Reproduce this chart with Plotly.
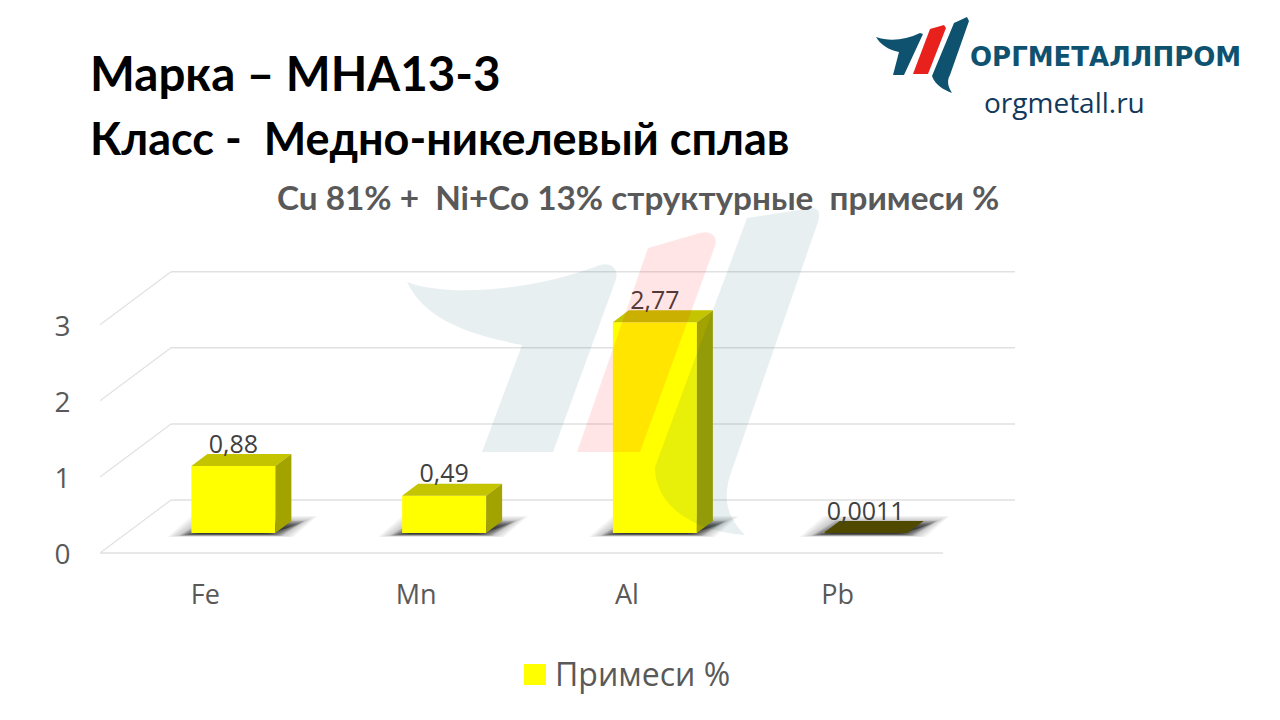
import plotly.graph_objects as go

# ---------- data ----------
categories = ["Fe", "Mn", "Al", "Pb"]
values = [0.88, 0.49, 2.77, 0.0011]
value_labels = ["0,88", "0,49", "2,77", "0,0011"]
y_ticks = [0, 1, 2, 3]
series_name = "Примеси %"

# ---------- geometry of the fake 3D box (pixels on the 1280x720 page) ----------
PLOT_L, PLOT_R, PLOT_T, PLOT_B = 100, 1015, 220, 558
CAT_PX = 210.75          # width of one category
UNIT_PX = 76.1           # height of one y unit
BAR_BASE_PX = 533
FLOOR_PX = 553
BAR_SHIFT = 28 / CAT_PX  # bars sit to the right of their tick
BAR_W = 84 / CAT_PX
DX, DY = 16 / CAT_PX, 12 / UNIT_PX       # bar depth
WALL_DX, WALL_DY = 71 / CAT_PX, 53 / UNIT_PX   # back wall offset
FLOOR = -(FLOOR_PX - BAR_BASE_PX) / UNIT_PX    # y of the front floor edge
Y_BOTTOM = -(PLOT_B - BAR_BASE_PX) / UNIT_PX
LABEL_NUDGE = -5 / UNIT_PX
TICK_NUDGE = -1 / UNIT_PX
X0 = -0.5
X1 = X0 + (PLOT_R - PLOT_L) / CAT_PX
FRONT_END = X0 + 4
TOP_COL = ["#c4c400", "#c4c400", "#c4c400", "#4f4a00"]
SIDE_COL = "#a3a300"
GRID = "#e1e1e1"
W, H = PLOT_R - PLOT_L, PLOT_B - PLOT_T


def px(x, y):
    return (x - PLOT_L) / W, (PLOT_B - y) / H


def path(points):
    out = []
    for cmd, pts in points:
        if cmd == "L":
            out.extend("L%.5f,%.5f" % px(*p) for p in pts)
        else:
            out.append(cmd + " ".join("%.5f,%.5f" % px(*p) for p in pts))
    return " ".join(out) + " Z"


def paper_shape(points, color):
    return dict(type="path", xref="paper", yref="paper", path=path(points),
                fillcolor=color, line=dict(width=0), layer="above")


shapes = []
# grid: floor edge, back-wall lines and the diagonals joining them
shapes.append(dict(type="line", xref="x", yref="y", x0=X0, x1=FRONT_END, y0=FLOOR, y1=FLOOR,
                   line=dict(color=GRID, width=1.5), layer="below"))
for t in y_ticks:
    yb = t + FLOOR + WALL_DY
    shapes.append(dict(type="line", xref="x", yref="y", x0=X0 + WALL_DX, x1=X1, y0=yb, y1=yb,
                       line=dict(color=GRID, width=1.5), layer="below"))
    shapes.append(dict(type="line", xref="x", yref="y", x0=X0, x1=X0 + WALL_DX, y0=t + FLOOR, y1=yb,
                       line=dict(color=GRID, width=1.2), layer="below"))

# soft shadow under every bar, stacked translucent layers
for i in range(len(categories)):
    c = i + BAR_SHIFT
    for k in range(16):
        inset = k * 2.0
        xa = c - BAR_W / 2 - (24 - inset) / CAT_PX
        xb = c + BAR_W / 2 + (18 - inset) / CAT_PX
        ya = -(4 - k * 0.22) / UNIT_PX
        yb = (17 - k * 0.8) / UNIT_PX
        sk = 24 / CAT_PX
        alpha = 0.04 if k < 6 else 0.16
        shapes.append(dict(type="path", xref="x", yref="y", layer="below",
                           path=f"M{xa},{ya} L{xb},{ya} L{xb + sk},{yb} L{xa + sk},{yb} Z",
                           fillcolor=f"rgba(30,30,30,{alpha})", line=dict(width=0)))

# watermark logo, laid over the bars
WM_BLUE = "rgba(0,80,100,0.09)"
WM_RED = "rgba(255,0,0,0.10)"
shapes.append(paper_shape([
    ("M", [(407, 282)]), ("C", [(440, 295), (520, 295), (600, 265)]),
    ("C", [(612, 262), (620, 270), (615, 282)]), ("L", [(553, 452), (482, 452), (522, 345)]),
    ("C", [(470, 335), (425, 320), (407, 282)]),
], WM_BLUE))
shapes.append(paper_shape([
    ("M", [(577, 452)]), ("L", [(648, 248), (700, 233)]),
    ("C", [(712, 230), (718, 238), (715, 246)]), ("L", [(640, 452)]),
], WM_RED))
shapes.append(paper_shape([
    ("M", [(747, 218)]), ("L", [(812, 208)]), ("C", [(820, 208), (820, 215), (818, 222)]),
    ("L", [(733, 467)]), ("C", [(722, 495), (725, 515), (745, 535)]),
    ("C", [(700, 532), (655, 510), (655, 467)]),
], WM_BLUE))

# header logo
LOGO_BLUE = "#0f5270"
LOGO_RED = "#e8211d"
shapes.append(paper_shape([
    ("M", [(876, 37)]), ("C", [(890, 42), (905, 40), (920, 33)]),
    ("L", [(923, 34), (904, 75), (893, 75), (899, 52)]),
    ("C", [(888, 50), (880, 44), (876, 37)]),
], LOGO_BLUE))
shapes.append(paper_shape([("M", [(913, 74)]), ("L", [(930, 29), (944, 25), (946, 28), (928, 74)])], LOGO_RED))
shapes.append(paper_shape([
    ("M", [(954, 23)]), ("L", [(967, 17), (969, 21), (950, 75)]), ("C", [(946, 82), (949, 88), (952, 93)]),
    ("C", [(944, 90), (935, 85), (932, 76)]),
], LOGO_BLUE))

# enlarged legend swatch, on top of the legend's own key
shapes.append(paper_shape([("M", [(524, 664)]), ("L", [(546, 664), (546, 685), (524, 685)])], "#ffff00"))

# ---------- traces ----------
bar_x = [i + BAR_SHIFT for i in range(len(categories))]
fig = go.Figure()
fig.add_trace(go.Bar(x=bar_x, y=values, width=BAR_W, name=series_name,
                     marker=dict(color="#ffff00", line=dict(width=0)), showlegend=True))

for cx, v, tc in zip(bar_x, values, TOP_COL):
    l, r = cx - BAR_W / 2, cx + BAR_W / 2
    fig.add_trace(go.Scatter(x=[l, r, r + DX, l + DX, l], y=[v, v, v + DY, v + DY, v],
                             mode="lines", fill="toself", fillcolor=tc, line=dict(width=0),
                             showlegend=False, hoverinfo="skip"))
    fig.add_trace(go.Scatter(x=[r, r + DX, r + DX, r, r], y=[0, DY, v + DY, v, 0],
                             mode="lines", fill="toself", fillcolor=SIDE_COL, line=dict(width=0),
                             showlegend=False, hoverinfo="skip"))

fig.add_trace(go.Scatter(x=bar_x, y=[v + DY + LABEL_NUDGE for v in values], text=value_labels, mode="text",
                         textposition="top center", cliponaxis=False,
                         textfont=dict(family="Open Sans", size=25, color="#404040"),
                         showlegend=False, hoverinfo="skip"))


def note(text, x, y, size, color, family="Lato", bold=True, anchor="left"):
    xp, yp = px(x, y)
    return dict(text=f"<b>{text}</b>" if bold else text, x=xp, y=yp, xref="paper", yref="paper",
                xanchor=anchor, yanchor="middle", showarrow=False,
                font=dict(family=family, size=size, color=color))


annotations = [
    note("Марка – МНА13-3", 88, 72, 47.5, "#000000"),
    note("Класс -  Медно-никелевый сплав", 88, 138, 45, "#000000"),
    note("Cu 81% +  Ni+Co 13% структурные  примеси %", 638, 197, 33.3, "#595959", anchor="center"),
    note("ОРГМЕТАЛЛПРОМ", 968, 57, 26, LOGO_BLUE, family="DejaVu Sans"),
    note("orgmetall.ru", 982, 102, 28, "#12395b", family="Open Sans", bold=False),
]

fig.update_layout(
    width=1280, height=720, autosize=False,
    margin=dict(l=PLOT_L, r=1280 - PLOT_R, t=PLOT_T, b=720 - PLOT_B, pad=0),
    paper_bgcolor="white", plot_bgcolor="rgba(0,0,0,0)",
    font=dict(family="Open Sans", color="#595959"),
    shapes=shapes, annotations=annotations,
    xaxis=dict(range=[X0, X1], tickmode="array", tickvals=list(range(len(categories))), ticktext=categories,
               showgrid=False, zeroline=False, showline=False, ticks="outside", ticklen=13,
               tickcolor="rgba(0,0,0,0)", tickfont=dict(size=27, color="#595959")),
    yaxis=dict(range=[Y_BOTTOM, (BAR_BASE_PX - PLOT_T) / UNIT_PX], tickmode="array",
               tickvals=[t + FLOOR + TICK_NUDGE for t in y_ticks], ticktext=[str(t) for t in y_ticks],
               showgrid=False, zeroline=False, showline=False, ticks="outside", ticklen=23,
               tickcolor="rgba(0,0,0,0)", tickfont=dict(size=28, color="#595959")),
    legend=dict(x=(515 - PLOT_L) / W, y=px(0, 674)[1], xanchor="left", yanchor="middle",
                font=dict(size=32, color="#595959"), bgcolor="rgba(0,0,0,0)", itemwidth=30),
    hovermode=False,
)

fig.write_html("out.html", post_script="document.body.style.margin='0';",
               config=dict(displayModeBar=False))
